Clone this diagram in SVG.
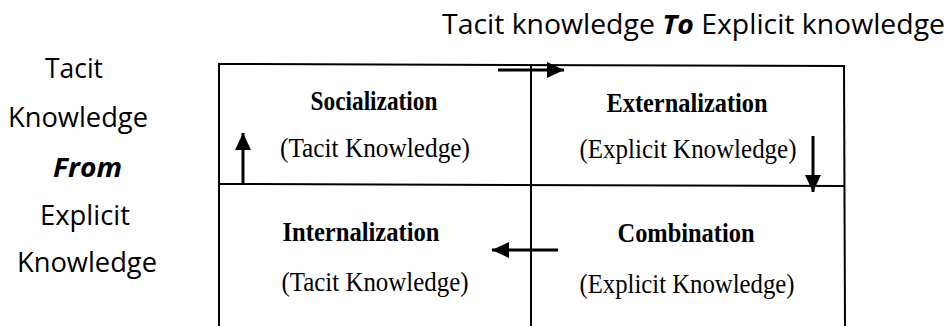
<svg xmlns="http://www.w3.org/2000/svg" width="950" height="326" viewBox="0 0 950 326">
<style>
  .grid { stroke:#000; stroke-width:2; fill:none; }
  .conn { stroke:#000; stroke-width:3; fill:none; marker-end:url(#ah); }
  .side { font-family:"Open Sans","Noto Sans","DejaVu Sans",sans-serif; font-size:27px; fill:#000; }
  .title { font-family:"Liberation Serif","Times New Roman",serif; font-weight:bold; font-size:28px; fill:#000; text-anchor:middle; }
  .sub { font-family:"Liberation Serif","Times New Roman",serif; font-size:28px; fill:#000; text-anchor:middle; }
  .em { font-weight:bold; font-style:italic; }
</style>
<defs>
  <marker id="ah" viewBox="0 0 17 16" refX="17" refY="8" markerWidth="17" markerHeight="16" markerUnits="userSpaceOnUse" orient="auto">
    <path d="M0,0 L17,8 L0,16 Z" fill="#000"/>
  </marker>
</defs>
<rect width="950" height="326" fill="#fff"/>

<g id="header">
  <text class="side" x="442" y="34" textLength="503" lengthAdjust="spacingAndGlyphs">Tacit knowledge <tspan class="em">To</tspan> Explicit knowledge</text>
</g>

<g id="side-label">
  <text class="side" x="45" y="78" textLength="58" lengthAdjust="spacingAndGlyphs">Tacit</text>
  <text class="side" x="8" y="127" textLength="140" lengthAdjust="spacingAndGlyphs">Knowledge</text>
  <text class="side em" x="53" y="177" textLength="69" lengthAdjust="spacingAndGlyphs">From</text>
  <text class="side" x="40" y="225" textLength="90" lengthAdjust="spacingAndGlyphs">Explicit</text>
  <text class="side" x="17" y="272" textLength="140" lengthAdjust="spacingAndGlyphs">Knowledge</text>
</g>

<g id="grid">
  <line class="grid" x1="219" y1="64" x2="844" y2="66"/>
  <line class="grid" x1="219" y1="184" x2="844" y2="186"/>
  <line class="grid" x1="219" y1="63" x2="219" y2="326"/>
  <line class="grid" x1="531" y1="64" x2="531" y2="326"/>
  <line class="grid" x1="844" y1="65" x2="845" y2="326"/>
</g>

<g id="socialization">
  <text class="title" x="374" y="110" textLength="127" lengthAdjust="spacingAndGlyphs">Socialization</text>
  <text class="sub" x="375" y="157" textLength="190" lengthAdjust="spacingAndGlyphs">(Tacit Knowledge)</text>
</g>
<g id="externalization">
  <text class="title" x="687" y="112" textLength="161" lengthAdjust="spacingAndGlyphs">Externalization</text>
  <text class="sub" x="688" y="158" textLength="217" lengthAdjust="spacingAndGlyphs">(Explicit Knowledge)</text>
</g>
<g id="internalization">
  <text class="title" x="361" y="241" textLength="157" lengthAdjust="spacingAndGlyphs">Internalization</text>
  <text class="sub" x="375" y="291" textLength="187" lengthAdjust="spacingAndGlyphs">(Tacit Knowledge)</text>
</g>
<g id="combination">
  <text class="title" x="686" y="242" textLength="137" lengthAdjust="spacingAndGlyphs">Combination</text>
  <text class="sub" x="687" y="293" textLength="215" lengthAdjust="spacingAndGlyphs">(Explicit Knowledge)</text>
</g>

<g id="connectors">
  <line class="conn" x1="498" y1="70" x2="564" y2="70"/>
  <line class="conn" x1="813" y1="136" x2="813" y2="192"/>
  <line class="conn" x1="558" y1="250" x2="492" y2="250"/>
  <line class="conn" x1="243" y1="183" x2="243" y2="133"/>
</g>
</svg>
